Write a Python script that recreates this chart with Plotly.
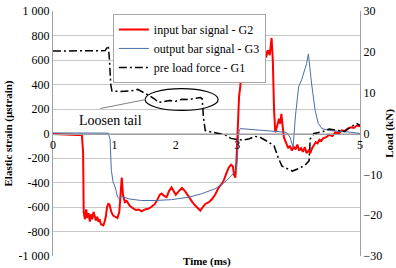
import plotly.graph_objects as go

# ---- data ----
t_in = [0.00, 0.10, 0.20, 0.30, 0.40, 0.47, 0.49, 0.50, 0.52, 0.54, 0.56, 0.58, 0.60, 0.62, 0.64, 0.66,
        0.68, 0.70, 0.72, 0.74, 0.76, 0.78, 0.80, 0.82, 0.84, 0.86, 0.88, 0.90, 0.92, 0.95, 0.98, 1.01,
        1.05, 1.08, 1.10, 1.12, 1.14, 1.17, 1.20, 1.25, 1.30, 1.35, 1.40, 1.44, 1.50, 1.55, 1.60, 1.66,
        1.70, 1.74, 1.77, 1.81, 1.85, 1.89, 1.93, 1.97, 2.00, 2.05, 2.10, 2.15, 2.21, 2.27, 2.32, 2.37,
        2.40, 2.44, 2.48, 2.54, 2.59, 2.64, 2.70, 2.75, 2.78, 2.82, 2.86, 2.90, 2.93, 2.95, 2.97, 2.99,
        3.01, 3.03, 3.05, 3.07, 3.09, 3.12, 3.15, 3.18, 3.21, 3.24, 3.27, 3.30, 3.33, 3.36, 3.39, 3.42,
        3.45, 3.47, 3.50, 3.53, 3.56, 3.58, 3.60, 3.62, 3.65, 3.68, 3.70, 3.72, 3.74, 3.76, 3.80, 3.83,
        3.86, 3.89, 3.92, 3.95, 3.98, 4.01, 4.04, 4.07, 4.10, 4.13, 4.16, 4.19, 4.22, 4.25, 4.28, 4.31,
        4.34, 4.37, 4.40, 4.45, 4.50, 4.55, 4.60, 4.65, 4.70, 4.75, 4.80, 4.85, 4.90, 4.95, 5.00]
input_g2 = [-5, -8, -10, -8, -12, -10, -150, -640, -700, -620, -690, -650, -720, -660, -700, -640,
            -690, -710, -680, -720, -700, -740, -745, -750, -720, -680, -600, -575, -580, -640, -670, -680,
            -690, -640, -450, -360, -500, -560, -550, -590, -610, -625, -620, -635, -620, -615, -600, -575,
            -540, -500, -490, -510, -520, -470, -440, -470, -500, -470, -445, -470, -520, -560, -590, -620,
            -630, -600, -575, -560, -535, -500, -440, -410, -385, -330, -280, -255, -270, -340, -360, -200,
            100, 300, 380, 600, 700, 690, 720, 680, 700, 710, 690, 730, 700, 690, 720, 650,
            700, 620, 680, 640, 780, 600, 200, 10, 60, 120, 80, 160, 60, -30, -80, -120,
            -100, -140, -110, -130, -90, -140, -120, -150, -110, -160, -140, -160, -120, -100, -70, -80,
            -50, -60, -40, -30, -10, -20, 10, 0, 25, 20, 40, 50, 45, 65, 60]

t_out = [0.00, 0.50, 0.90, 0.93, 0.95, 0.98, 1.00, 1.03, 1.05, 1.08, 1.12, 1.15, 1.25, 1.44, 1.66, 1.93,
         2.21, 2.42, 2.64, 2.80, 2.91, 2.99, 3.01, 3.03, 3.05, 3.10, 3.30, 3.50, 3.70, 3.80, 3.86, 3.91,
         3.95, 4.00, 4.05, 4.10, 4.13, 4.16, 4.21, 4.27, 4.32, 4.38, 4.51, 4.84, 5.00]
output_g3 = [5, 5, 3, -50, -300, -400, -420, -470, -520, -530, -515, -520, -535, -547, -547, -540,
             -520, -492, -451, -397, -342, -288, -100, 20, 40, 38, 30, 20, 12, 10, -30, -110,
             150, 380, 440, 520, 570, 650, 412, 188, 82, 40, 24, 11, 0]

t_pre = [0.00, 0.30, 0.60, 0.85, 0.90, 0.92, 0.94, 0.96, 1.10, 1.30, 1.38, 1.45, 1.52, 1.58, 1.65, 1.72,
         1.80, 1.90, 2.00, 2.10, 2.20, 2.30, 2.40, 2.43, 2.45, 2.48, 2.60, 2.70, 2.80, 2.90, 3.00, 3.10,
         3.20, 3.29, 3.38, 3.45, 3.52, 3.60, 3.67, 3.73, 3.83, 3.90, 4.00, 4.10, 4.17, 4.19, 4.25, 4.40,
         4.50, 4.60, 4.75, 4.85, 4.95, 5.00]
preload_g1 = [20.2, 20.2, 20.3, 20.3, 21.5, 18, 12, 10.4, 10.3, 10.5, 10.8, 10.3, 9.8, 9.2, 8.5, 7.6,
              7.8, 8.1, 7.9, 8.4, 8.3, 8.6, 8.8, 8.5, 4, 0.7, 0.4, 0, -0.3, -1.2, -1.5, -1.6,
              -1.3, -0.7, -1.0, -1.5, -2.2, -3.0, -6, -8, -8.7, -9.2, -8.6, -7.8, -6.7, -1.3, 0, 0.5,
              1.1, 0.8, 0.5, 1.6, 2.4, 2.0]

x_ticks = [0, 1, 2, 3, 4, 5]
x_ticktext = ["0", "1", "2", "3", "", "5"]
y_ticks = [-1000, -800, -600, -400, -200, 0, 200, 400, 600, 800, 1000]
y_ticktext = ["-1 000", "-800", "-600", "-400", "-200", "0", "200", "400", "600", "800", "1 000"]
y2_ticks = [-30, -20, -10, 0, 10, 20, 30]

FONT = "Times New Roman, Liberation Serif, serif"
GRID = "#c8c8c8"

fig = go.Figure()
fig.add_trace(go.Scatter(x=t_in, y=input_g2, mode="lines", name="input bar signal - G2",
                         line=dict(color="#ff0000", width=2)))
fig.add_trace(go.Scatter(x=t_out, y=output_g3, mode="lines", name="output bar signal - G3",
                         line=dict(color="#4a6fa8", width=1)))
fig.add_trace(go.Scatter(x=t_pre, y=preload_g1, mode="lines", name="pre load force - G1", yaxis="y2",
                         line=dict(color="#000000", width=1.5, dash="8px,3px,2px,3px")))

fig.update_layout(
    width=396, height=268,
    margin=dict(l=53, r=36, t=11, b=12, autoexpand=False),
    paper_bgcolor="white", plot_bgcolor="white",
    font=dict(family=FONT, size=12, color="#000000"),
    showlegend=True,
    legend=dict(x=0.195, y=0.988, xanchor="left", yanchor="top", itemwidth=30,
                bordercolor="#a6a6a6", borderwidth=1, bgcolor="white",
                font=dict(family=FONT, size=12), tracegroupgap=0),
    xaxis=dict(range=[0, 5], tickvals=x_ticks, ticktext=x_ticktext, anchor="free", position=0.5,
               showgrid=False, showline=True, linecolor="#a0a0a0", linewidth=1, automargin=False,
               ticks="", zeroline=False, tickfont=dict(family=FONT, size=12)),
    yaxis=dict(range=[-1000, 1000], tickvals=y_ticks, ticktext=y_ticktext, automargin=False,
               showgrid=True, gridcolor=GRID, gridwidth=1, zeroline=False,
               showline=True, linecolor="#a0a0a0", linewidth=1, ticks="",
               title=dict(text="<b>Elastic strain (µstrain)</b>", font=dict(family=FONT, size=11), standoff=3),
               tickfont=dict(family=FONT, size=12)),
    yaxis2=dict(range=[-30, 30], tickvals=y2_ticks, overlaying="y", side="right", automargin=False,
                showgrid=False, zeroline=False, showline=True, linecolor="#a0a0a0", linewidth=1,
                ticks="", title=dict(text="<b>Load (kN)</b>", font=dict(family=FONT, size=11), standoff=7),
                tickfont=dict(family=FONT, size=12)),
)

fig.add_annotation(text="<b>Time (ms)</b>", xref="paper", yref="paper", x=0.5, y=-0.022,
                   xanchor="center", yanchor="middle", showarrow=False, borderpad=0,
                   font=dict(family=FONT, size=11))
fig.add_annotation(text="Loosen tail", x=0.93, y=106, xref="x", yref="y", showarrow=False,
                   font=dict(family=FONT, size=14))
fig.add_shape(type="circle", xref="x", yref="y", x0=1.50, x1=2.69, y0=188, y1=367,
              line=dict(color="#000000", width=1.2))
fig.add_shape(type="line", xref="x", yref="y", x0=0.77, y0=204, x1=1.51, y1=277,
              line=dict(color="#808080", width=1))

fig.write_html("out.html")
